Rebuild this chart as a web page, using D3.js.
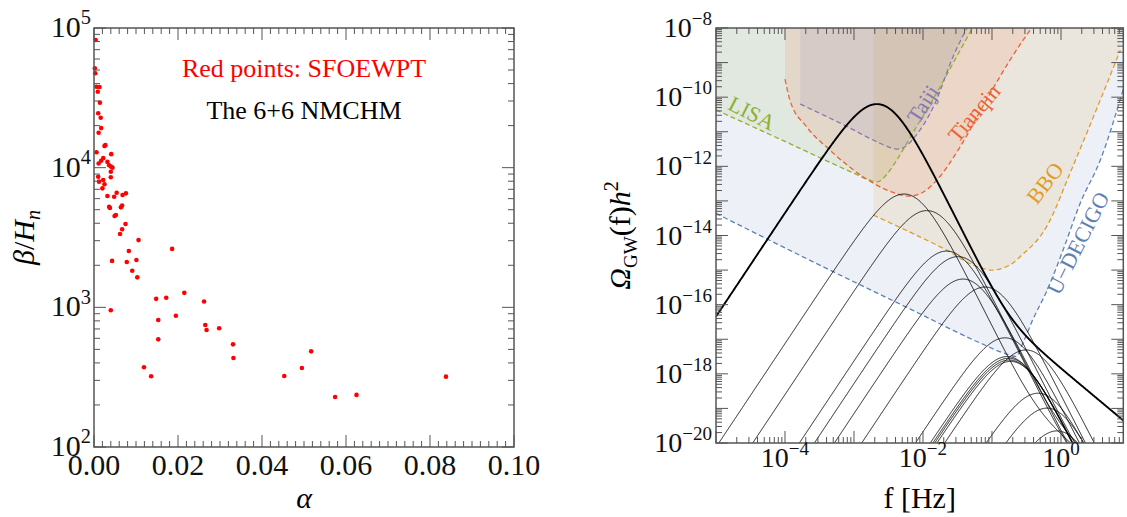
<!DOCTYPE html>
<html>
<head>
<meta charset="utf-8">
<script src="https://cdn.jsdelivr.net/npm/d3@7"></script>
<style>
  body { margin: 0; background: #fff; }
  svg text { font-family: "Liberation Serif", "Times New Roman", Times, serif; }
</style>
</head>
<body>
<svg id="chart" width="1127" height="517"></svg>
<script>
// ---------------- data : left panel (alpha, beta/H_n) ----------------
var alphaVals = [0.0004, 0.0002, 0.0003, 0.0006, 0.0013, 0.0009, 0.0014, 0.0010, 0.0016, 0.0017,
  0.0011, 0.0025, 0.0027, 0.0006, 0.0041, 0.0011, 0.0017, 0.0022, 0.0032, 0.0036,
  0.0040, 0.0044, 0.0040, 0.0010, 0.0040, 0.0012, 0.0022, 0.0025, 0.0020, 0.0032,
  0.0048, 0.0054, 0.0068, 0.0076, 0.0036, 0.0038, 0.0064, 0.0067, 0.0052, 0.0049,
  0.0075, 0.0067, 0.0062, 0.0106, 0.0083, 0.0186, 0.0043, 0.0078, 0.0101, 0.0091,
  0.0103, 0.0040, 0.0148, 0.0172, 0.0215, 0.0262, 0.0195, 0.0153, 0.0265, 0.0268,
  0.0298, 0.0153, 0.0331, 0.0332, 0.0119, 0.0136, 0.0453, 0.0495, 0.0517, 0.0574,
  0.0625, 0.0838];
var betaVals = [82000, 51400, 47400, 38000, 37800, 35000, 29200, 24500, 22800, 19200,
  17800, 14300, 14500, 12900, 12500, 10700, 11200, 11700, 11000, 10400,
  10200, 10000, 9350, 8600, 8530, 7940, 8170, 7600, 7110, 6270,
  6190, 6620, 6370, 6550, 5250, 5140, 5200, 5350, 4580, 4510,
  3950, 3620, 3350, 3030, 2530, 2620, 2150, 2110, 2180, 1830,
  1640, 953, 1150, 1170, 1270, 1100, 871, 811, 748, 689,
  708, 590, 543, 434, 372, 321, 322, 368, 484, 228,
  236, 319];
var alphaTicks = [0, 0.02, 0.04, 0.06, 0.08, 0.1];
var betaDecades = [2, 3, 4, 5];

// ---------------- data : right panel (GW spectra) ----------------
// peaks of the GW spectra (first one is the thick curve)
var gwPeakFreq = [2.15e-3, 5.31e-3, 1.14e-2, 2.2e-2, 3.21e-2, 3.8e-2, 7.92e-2, 0.154,
  0.166, 0.174, 0.178, 0.186, 0.311, 0.465, 0.627, 0.875];
var gwPeakOmega = [6.31e-11, 1.58e-13, 5.25e-14, 3.55e-15, 2.45e-15, 5.5e-16, 3.24e-16, 1.1e-17,
  3.16e-18, 2.82e-18, 2.51e-18, 2.29e-18, 4.9e-18, 2.75e-19, 1.02e-19, 2.24e-20];
var turbRatio = Math.pow(10, -3.45);

// detector sensitivity curves, [log10 f, log10 Omega h^2]
var lisaCurve = [[-5, -10.37], [-4, -11.28], [-3.3, -11.93], [-3.0, -12.2], [-2.8, -12.38], [-2.66, -12.45],
  [-2.52, -12.22], [-2.38, -11.82], [-2.15, -11.04], [-1.86, -10.08], [-1.46, -8.64], [-1.2, -7.7]];
var taijiCurve = [[-3.78, -10.2], [-3.1, -10.85], [-2.67, -11.29], [-2.45, -11.47], [-2.36, -11.5], [-2.25, -11.42],
  [-2.12, -11.15], [-1.83, -10.2], [-1.565, -8.83], [-1.25, -7.6]];
var tianqinCurve = [[-4.0, -9.48], [-3.93, -10.08], [-3.69, -10.85], [-3.35, -11.53], [-2.87, -12.3], [-2.53, -12.68],
  [-2.19, -12.86], [-2.0, -12.75], [-1.8, -12.4], [-1.46, -11.43], [-1.08, -10.08], [-0.74, -8.93], [-0.3, -7.65]];
var bboCurve = [[-2.72, -13.41], [-2.15, -13.94], [-1.66, -14.42], [-1.28, -14.85], [-1.1, -14.97], [-1.0, -15.0],
  [-0.85, -14.95], [-0.7, -14.8], [-0.59, -14.61], [-0.21, -13.75], [0.17, -12.01], [0.57, -10.08], [0.86, -8.64]];
var udecigoCurve = [[-5, -13.36], [-3.35, -15.0], [-2.15, -16.16], [-1.17, -17.11], [-0.8, -17.42], [-0.65, -17.5],
  [-0.55, -17.1], [-0.41, -16.44], [-0.2, -15.58], [0.03, -14.42], [0.28, -13.06], [0.57, -11.82], [0.9, -9.79]];

var detectors = [
  {name: 'U\u2212DECIGO', pts: udecigoCurve, color: '#5E81B5', op: 0.11, lab: [0.246, -14.22], rot: -63},
  {name: 'BBO', pts: bboCurve, color: '#E19C24', op: 0.12, lab: [-0.232, -12.48], rot: -52},
  {name: 'LISA', pts: lisaCurve, color: '#8FB032', op: 0.12, lab: [-4.478, -10.46], rot: 27},
  {name: 'Tianqin', pts: tianqinCurve, color: '#EB6235', op: 0.12, lab: [-1.261, -10.46], rot: -50},
  {name: 'Taiji', pts: taijiCurve, color: '#8778B3', op: 0.12, lab: [-2.0, -10.2], rot: -57}
];

var freqDecades = [-5, -4, -3, -2, -1, 0];
var freqLabels = [-4, -2, 0];
var omegaDecades = d3.range(-20, -7);
var omegaLabels = [-20, -18, -16, -14, -12, -10, -8];

// ---------------- helpers ----------------
var svg = d3.select('#chart');
var FRAME = '#555';

function powLabel(g, x, y, exp, anchor, size) {
  var t = g.append('text').attr('x', x).attr('y', y)
    .attr('text-anchor', anchor).attr('font-size', size).attr('fill', '#111');
  t.append('tspan').text('10');
  t.append('tspan').attr('dy', -0.42 * size).attr('font-size', 0.68 * size)
    .text(exp < 0 ? '\u2212' + (-exp) : String(exp));
  return t;
}

function frameTicks(g, sx, sy, xt, yt) {
  var xr = sx.range(), yr = sy.range();
  var left = xr[0], right = xr[1], bottom = yr[0], top = yr[1];
  g.selectAll(null).data(xt).join('line')
    .attr('x1', function(d) {return sx(d.v);}).attr('x2', function(d) {return sx(d.v);})
    .attr('y1', bottom).attr('y2', function(d) {return bottom - d.len;});
  g.selectAll(null).data(xt).join('line')
    .attr('x1', function(d) {return sx(d.v);}).attr('x2', function(d) {return sx(d.v);})
    .attr('y1', top).attr('y2', function(d) {return top + d.len;});
  g.selectAll(null).data(yt).join('line')
    .attr('y1', function(d) {return sy(d.v);}).attr('y2', function(d) {return sy(d.v);})
    .attr('x1', left).attr('x2', function(d) {return left + d.len;});
  g.selectAll(null).data(yt).join('line')
    .attr('y1', function(d) {return sy(d.v);}).attr('y2', function(d) {return sy(d.v);})
    .attr('x1', right).attr('x2', function(d) {return right - d.len;});
  g.selectAll('line').attr('stroke', FRAME).attr('stroke-width', 1);
  g.append('rect').attr('x', left).attr('y', top)
    .attr('width', right - left).attr('height', bottom - top)
    .attr('fill', 'none').attr('stroke', FRAME).attr('stroke-width', 1.5);
}

function logTicks(decades, lo, hi) {
  var out = [];
  decades.forEach(function(d) {
    out.push({v: Math.pow(10, d), len: 12});
    for (var k = 2; k <= 9; k++) {
      var v = k * Math.pow(10, d);
      if (v > lo && v < hi) out.push({v: v, len: 6});
    }
  });
  return out;
}

// ---------------- left panel ----------------
var xA = d3.scaleLinear().domain([0, 0.1]).range([94, 514]);
var yB = d3.scaleLog().domain([1e2, 1e5]).range([447, 28]);
var gL = svg.append('g');

gL.selectAll('circle').data(alphaVals).join('circle')
  .attr('cx', function(d) {return xA(d);})
  .attr('cy', function(d, i) {return yB(betaVals[i]);})
  .attr('r', 2.3).attr('fill', '#ff0000');

var xtL = d3.range(0, 51).map(function(i) {return {v: i * 0.002, len: i % 10 === 0 ? 12 : 6};});
frameTicks(gL.append('g'), xA, yB, xtL, logTicks([2, 3, 4], 1e2, 1e5).concat([{v: 1e5, len: 12}]));

gL.selectAll('text.xl').data(alphaTicks).join('text')
  .attr('x', function(d) {return xA(d);}).attr('y', 475)
  .attr('text-anchor', 'middle').attr('font-size', 30).attr('fill', '#111')
  .text(function(d) {return d.toFixed(2);});
betaDecades.forEach(function(e) {
  powLabel(gL, xA.range()[0] - 3, yB(Math.pow(10, e)) + 9, e, 'end', 30);
});

gL.append('text').attr('x', xA(0.05)).attr('y', 508).attr('text-anchor', 'middle')
  .attr('font-size', 30).attr('font-style', 'italic').text('\u03b1');
var yt = gL.append('text').attr('transform', 'translate(34,' + yB(Math.pow(10, 3.5)) + ') rotate(-90)')
  .attr('text-anchor', 'middle').attr('font-size', 30);
yt.append('tspan').attr('font-style', 'italic').text('\u03b2');
yt.append('tspan').text('/');
yt.append('tspan').attr('font-style', 'italic').text('H');
yt.append('tspan').attr('font-style', 'italic').attr('font-size', 20).attr('dy', 6).text('n');

gL.append('text').attr('x', xA(0.05)).attr('y', yB(44600)).attr('text-anchor', 'middle')
  .attr('font-size', 26).attr('fill', '#ff0000').text('Red points: SFOEWPT');
gL.append('text').attr('x', xA(0.05)).attr('y', yB(22300)).attr('text-anchor', 'middle')
  .attr('font-size', 26).attr('fill', '#000').text('The 6+6 NMCHM');

// ---------------- right panel ----------------
var xF = d3.scaleLog().domain([1e-5, 8]).range([716, 1123.3]);
var yO = d3.scaleLog().domain([1e-20, 1e-8]).range([443, 28]);
var gR = svg.append('g');

svg.append('defs').append('clipPath').attr('id', 'clipR').append('rect')
  .attr('x', 716).attr('y', 28).attr('width', 1123.3 - 716).attr('height', 443 - 28);
var plotR = gR.append('g').attr('clip-path', 'url(#clipR)');

var px = function(d) {return xF(Math.pow(10, d[0]));};
var py = function(d) {return yO(Math.pow(10, d[1]));};
var area = d3.area().x(px).y0(28).y1(py).curve(d3.curveMonotoneX);
var line = d3.line().x(px).y(py).curve(d3.curveMonotoneX);

detectors.forEach(function(det) {
  plotR.append('path').attr('d', area(det.pts))
    .attr('fill', det.color).attr('fill-opacity', det.op).attr('stroke', 'none');
});
detectors.forEach(function(det) {
  plotR.append('path').attr('d', line(det.pts))
    .attr('fill', 'none').attr('stroke', det.color).attr('stroke-width', 1.3)
    .attr('stroke-dasharray', '5,3');
});

// sound-wave + turbulence spectral template around each read-off peak
function spectrum(fp, op) {
  var pts = [];
  for (var lf = -5; lf <= 0.95; lf += 0.005) {
    var r = Math.pow(10, lf) / fp;
    var sw = Math.pow(r, 3) * Math.pow(7 / (4 + 3 * r * r), 3.5);
    var rt = r / 1.42;
    var tb = turbRatio * rt * rt / Math.pow(1 + rt, 11 / 3);
    pts.push([lf, Math.log10(op * (sw + tb))]);
  }
  return pts;
}
var gwLine = d3.line().x(px).y(py);
gwPeakFreq.forEach(function(fp, i) {
  plotR.append('path').attr('d', gwLine(spectrum(fp, gwPeakOmega[i])))
    .attr('fill', 'none').attr('stroke', '#000')
    .attr('stroke-width', i === 0 ? 1.9 : 0.9);
});

detectors.forEach(function(det) {
  gR.append('text')
    .attr('transform', 'translate(' + px(det.lab) + ',' + py(det.lab) + ') rotate(' + det.rot + ')')
    .attr('text-anchor', 'middle').attr('dominant-baseline', 'central')
    .attr('font-size', 22).attr('fill', det.color).text(det.name);
});

var xtR = logTicks(freqDecades, 1e-5, 8);
var ytR = logTicks(omegaDecades.slice(0, -1), 1e-20, 1e-8).concat([{v: 1e-8, len: 12}]);
frameTicks(gR.append('g'), xF, yO, xtR, ytR);

freqLabels.forEach(function(e) {
  powLabel(gR, xF(Math.pow(10, e)), 467, e, 'middle', 28);
});
omegaLabels.forEach(function(e) {
  powLabel(gR, xF.range()[0] - 4, yO(Math.pow(10, e)) + 9, e, 'end', 28);
});

gR.append('text').attr('x', (716 + 1123.3) / 2).attr('y', 508).attr('text-anchor', 'middle')
  .attr('font-size', 30).text('f [Hz]');
var ot = gR.append('text').attr('transform', 'translate(630,' + yO(1e-14) + ') rotate(-90)')
  .attr('text-anchor', 'middle').attr('font-size', 30);
ot.append('tspan').attr('font-style', 'italic').text('\u03a9');
ot.append('tspan').attr('font-size', 19).attr('dy', 7).text('GW');
ot.append('tspan').attr('dy', -7).text('(f)');
ot.append('tspan').attr('font-style', 'italic').text('h');
ot.append('tspan').attr('font-size', 20).attr('dy', -12).text('2');
</script>
</body>
</html>
